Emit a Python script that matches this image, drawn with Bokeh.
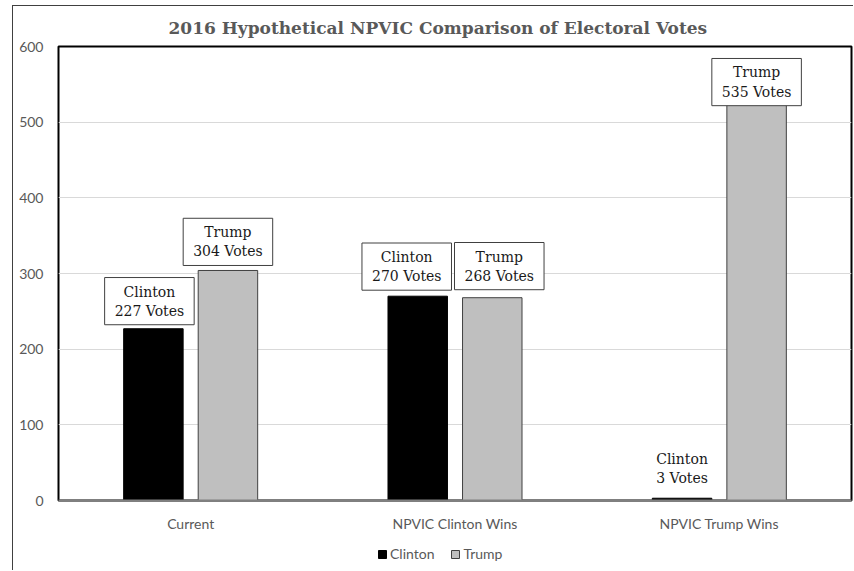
from bokeh.plotting import figure
from bokeh.layouts import column
from bokeh.models import Range1d, FactorRange, FixedTicker, Label, Legend, LegendItem, ColumnDataSource
from bokeh.transform import dodge
from bokeh.embed import file_html
from bokeh.resources import INLINE

# ---- data ----
categories = ["Current", "NPVIC Clinton Wins", "NPVIC Trump Wins"]
series = ["Clinton", "Trump"]
clinton_votes = [227, 270, 3]
trump_votes = [304, 268, 535]
y_ticks = [0, 100, 200, 300, 400, 500, 600]
title_text = "2016 Hypothetical NPVIC Comparison of Electoral Votes"

# ---- styles ----
GRAY_TEXT = "#595959"
CLINTON_FILL, CLINTON_LINE = "black", "black"
TRUMP_FILL, TRUMP_LINE = "#bfbfbf", "#404040"
BAR_W = 0.225
OFF = 0.141
clinton_label_dy = [4, 6, 6]     # pixel gap above bar top
trump_label_dy = [5, 8, -10]
clinton_label_dx = [-4, -11, 0]  # pixel nudge sideways
trump_label_dx = [0, 7, 0]
clinton_label_boxed = [True, True, False]

src = ColumnDataSource(dict(cat=categories, clinton=clinton_votes, trump=trump_votes))

p = figure(
    width=840, height=528,
    x_range=FactorRange(factors=categories, range_padding=0),
    y_range=Range1d(0, 600),
    output_backend="svg", toolbar_location=None,
    min_border_left=45, min_border_right=2, min_border_top=39, min_border_bottom=34,
)

p.title.text = title_text
p.title.text_font = "DejaVu Serif"
p.title.text_font_style = "bold"
p.title.text_font_size = "17px"
p.title.text_color = GRAY_TEXT
p.title.align = "left"
p.title.offset = 110
p.title.standoff = 18

def bars(fig):
    a = fig.vbar(x=dodge("cat", -OFF, range=fig.x_range), top="clinton", width=BAR_W, source=src,
                 fill_color=CLINTON_FILL, line_color=CLINTON_LINE, line_width=1)
    b = fig.vbar(x=dodge("cat", OFF, range=fig.x_range), top="trump", width=BAR_W, source=src,
                 fill_color=TRUMP_FILL, line_color=TRUMP_LINE, line_width=1)
    return a, b

r1, r2 = bars(p)

p.outline_line_color = "black"
p.outline_line_width = 2

p.xgrid.grid_line_color = None
p.ygrid.grid_line_color = "#d9d9d9"
p.ygrid.grid_line_width = 1

p.yaxis.ticker = FixedTicker(ticks=y_ticks)
p.yaxis.axis_line_color = None
p.yaxis.major_tick_line_color = None
p.yaxis.minor_tick_line_color = None
p.yaxis.major_tick_out = 0
p.yaxis.major_tick_in = 0
p.yaxis.major_label_text_font = "Lato"
p.yaxis.major_label_text_font_size = "14px"
p.yaxis.major_label_text_color = GRAY_TEXT
p.yaxis.major_label_standoff = 15

p.xaxis.axis_line_color = "#808080"
p.xaxis.axis_line_width = 2
p.xaxis.major_tick_line_color = None
p.xaxis.minor_tick_line_color = None
p.xaxis.major_tick_out = 0
p.xaxis.major_tick_in = 0
p.xaxis.major_label_text_font = "Lato"
p.xaxis.major_label_text_font_size = "14px"
p.xaxis.major_label_text_color = GRAY_TEXT
p.xaxis.major_label_standoff = 14

def add_label(xc, val, name, dx, dy, boxed):
    lbl = Label(x=xc, y=val, x_offset=dx, y_offset=dy, text=f"{name}\n{val} Votes",
                text_align="center", text_baseline="bottom",
                text_font="DejaVu Serif", text_font_size="14px", text_color="#1a1a1a",
                text_line_height=1.2,
                background_fill_color="white" if boxed else None,
                border_line_color="#404040" if boxed else None, border_line_width=1,
                padding=dict(left=10, right=10, top=6, bottom=6))
    p.add_layout(lbl)

for i, cat in enumerate(categories):
    add_label(i + 0.5 - OFF, clinton_votes[i], series[0], clinton_label_dx[i], clinton_label_dy[i],
              clinton_label_boxed[i])
    add_label(i + 0.5 + OFF, trump_votes[i], series[1], trump_label_dx[i], trump_label_dy[i], True)

# ---- legend strip below the chart (same bars, kept far outside its visible range) ----
p2 = figure(width=840, height=36, output_backend="svg", toolbar_location=None,
            x_range=FactorRange(factors=categories, range_padding=0),
            y_range=Range1d(100000, 100001),
            x_axis_type=None, y_axis_type=None,
            min_border_left=0, min_border_right=0, min_border_top=0, min_border_bottom=0)
p2.outline_line_color = None
p2.xgrid.grid_line_color = None
p2.ygrid.grid_line_color = None
d1, d2 = bars(p2)

legend = Legend(items=[LegendItem(label=series[0], renderers=[d1]),
                       LegendItem(label=series[1], renderers=[d2])],
                orientation="horizontal", location=(319, 8),
                border_line_color=None, background_fill_alpha=0,
                glyph_width=10, glyph_height=10, label_standoff=3, spacing=16,
                padding=0, margin=0,
                label_text_font="Lato", label_text_font_size="14px", label_text_color=GRAY_TEXT)
p2.add_layout(legend)

layout = column(p, p2, spacing=0)
layout.margin = (5, 0, 0, 12)
layout.styles = {"border-top": "1px solid #404040", "border-left": "1px solid #404040"}

open("out.html", "w").write(file_html(layout, INLINE))
